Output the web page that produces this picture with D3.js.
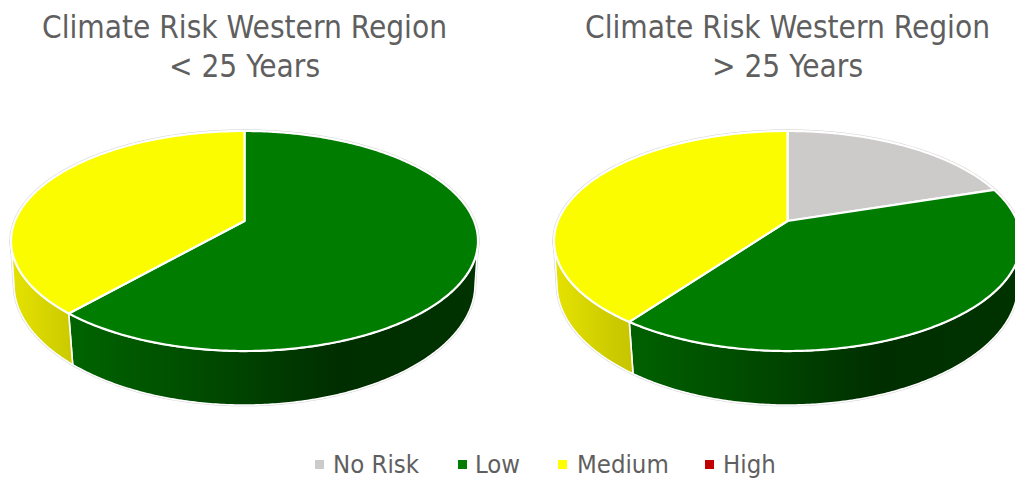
<!DOCTYPE html>
<html>
<head>
<meta charset="utf-8">
<script src="https://d3js.org/d3.v7.min.js"></script>
<style>
    html, body { margin: 0; padding: 0; background: #fff; overflow: hidden; }
    text { font-family: "DejaVu Sans", sans-serif; font-stretch: condensed; fill: #5f5f5f; }
</style>
</head>
<body>
<svg id="chart" width="1015" height="479"></svg>
<script>
const categories = ["No Risk", "Low", "Medium", "High"];
const colors = ["#cdcaca", "#007c00", "#fcfc00", "#c00000"];
const titles = [["Climate Risk Western Region", "< 25 Years"], ["Climate Risk Western Region", "> 25 Years"]];
const youngValues = [0, 61.5, 38.5, 0];
const olderValues = [20, 40, 40, 0];

// wall shading, left to right across the pie
const wallOffsets = [0, 0.125, 0.4, 0.7, 1];
const wallShades = {
    "Low": ["#007000", "#006400", "#004c00", "#002e00", "#003300"],
    "Medium": ["#e6e300", "#cccb00", "#a5a300", "#8f8d00", "#8f8d00"],
    "No Risk": ["#b0aeae", "#a5a3a3", "#8f8d8d", "#6b6a6a", "#6b6a6a"],
    "High": ["#b00000", "#a00000", "#800000", "#500000", "#500000"]
};

const svg = d3.select("#chart");
const defs = svg.append("defs");

const W = 229.6, A = 106.4, k = -0.1818, apexY = 221, wallH = 44.2;

// the wall runs between the widest points of the projected disc
const wallStart = Math.acos(k), wallEnd = 2 * Math.PI - wallStart;

// circle -> tilted disc with a bit of perspective, so the apex sits above the ellipse centre
function project(angle, cx, lower) {
    const u = Math.sin(angle), v = -Math.cos(angle);
    const w = 1 + k * v;
    const x = W * u / w, y = A * v / w;
    if (!lower) return [cx + x, apexY + y];
    return [cx + x * (0.99 - 0.017 * v), apexY + y + wallH / w];
}

const line = d3.line();

function arcPoints(a0, a1, cx, lower) {
    const n = Math.max(2, Math.ceil((a1 - a0) / 0.01));
    return d3.range(n + 1).map(i => project(a0 + (a1 - a0) * i / n, cx, lower));
}

function drawPie(values, title, cx, idx) {
    const slices = d3.pie().sort(null)(values)
        .map((s, i) => ({ ...s, cat: categories[i], color: colors[i] }))
        .filter(s => s.value > 0);

    const topPath = s => line([[cx, apexY], ...arcPoints(s.startAngle, s.endAngle, cx, false)]) + "Z";

    const wallPath = s => {
        const a0 = Math.max(s.startAngle, wallStart), a1 = Math.min(s.endAngle, wallEnd);
        if (a1 <= a0) return null;
        return line([...arcPoints(a0, a1, cx, false), ...arcPoints(a0, a1, cx, true).reverse()]) + "Z";
    };

    const walls = slices.filter(s => wallPath(s));

    walls.forEach(s => {
        const grad = defs.append("linearGradient")
            .attr("id", `wall-${idx}-${s.cat.replace(" ", "")}`)
            .attr("gradientUnits", "userSpaceOnUse")
            .attr("x1", cx - 234).attr("x2", cx + 234).attr("y1", 0).attr("y2", 0);
        wallShades[s.cat].forEach((c, i) => grad.append("stop").attr("offset", wallOffsets[i]).attr("stop-color", c));
    });

    const g = svg.append("g");

    // thin grey rim first, the white borders go over it
    g.selectAll(".wall-rim").data(walls).join("path")
        .attr("d", wallPath)
        .attr("fill", "none").attr("stroke", "#d2d2d2").attr("stroke-width", 2.6);
    g.selectAll(".top-rim").data(slices).join("path")
        .attr("d", topPath)
        .attr("fill", "none").attr("stroke", "#d2d2d2").attr("stroke-width", 3.2);

    g.selectAll(".wall").data(walls).join("path")
        .attr("class", "wall")
        .attr("d", wallPath)
        .attr("fill", s => `url(#wall-${idx}-${s.cat.replace(" ", "")})`)
        .attr("stroke", "#fff").attr("stroke-width", 1.6).attr("stroke-linejoin", "round");

    g.selectAll(".top").data(slices).join("path")
        .attr("class", "top")
        .attr("d", topPath)
        .attr("fill", s => s.color)
        .attr("stroke", "#fff").attr("stroke-width", 2.2).attr("stroke-linejoin", "round");

    svg.append("text")
        .attr("text-anchor", "middle")
        .style("font-size", "31.3px")
        .selectAll("tspan").data(title).join("tspan")
        .attr("x", cx)
        .attr("y", (d, i) => 38 + i * 39)
        .text(d => d);
}

drawPie(youngValues, titles[0], 244.5, 0);
drawPie(olderValues, titles[1], 787.5, 1);

// legend
const legendSwatchX = [315, 458, 558, 705];
const legendTextX = [333, 475, 577, 723];
const legend = svg.append("g").selectAll("g").data(categories).join("g");
legend.append("rect")
    .attr("x", (d, i) => legendSwatchX[i])
    .attr("y", 460)
    .attr("width", 9).attr("height", 9)
    .attr("fill", (d, i) => colors[i] === "#fcfc00" ? "#ffff00" : colors[i]);
legend.append("text")
    .attr("x", (d, i) => legendTextX[i])
    .attr("y", 473)
    .style("font-size", "25.5px")
    .text(d => d);
</script>
</body>
</html>
